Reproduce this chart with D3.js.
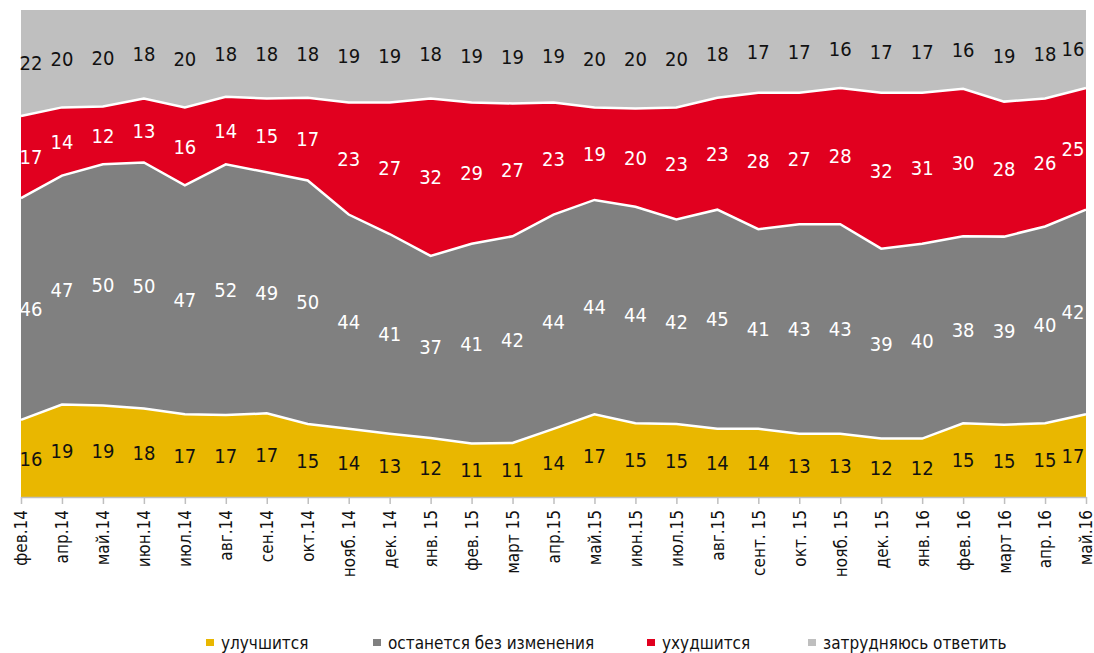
<!DOCTYPE html>
<html>
<head>
<meta charset="utf-8">
<script src="https://cdn.jsdelivr.net/npm/d3@7"></script>
<style>
  body { margin: 0; background: #fff; }
  svg { display: block; }
</style>
</head>
<body>
<div id="chart"></div>
<script>
// месяцы
const months = ["фев.14", "апр.14", "май.14", "июн.14", "июл.14", "авг.14", "сен.14", "окт.14",
  "нояб. 14", "дек. 14", "янв. 15", "фев. 15", "март 15", "апр.15", "май.15", "июн.15", "июл.15",
  "авг.15", "сент. 15", "окт. 15", "нояб. 15", "дек. 15", "янв. 16", "фев. 16", "март 16", "апр. 16", "май.16"];

const better = [16, 19, 19, 18, 17, 17, 17, 15, 14, 13, 12, 11, 11, 14, 17, 15, 15, 14, 14, 13, 13, 12, 12, 15, 15, 15, 17];
const same   = [46, 47, 50, 50, 47, 52, 49, 50, 44, 41, 37, 41, 42, 44, 44, 44, 42, 45, 41, 43, 43, 39, 40, 38, 39, 40, 42];
const worse  = [17, 14, 12, 13, 16, 14, 15, 17, 23, 27, 32, 29, 27, 23, 19, 20, 23, 23, 28, 27, 28, 32, 31, 30, 28, 26, 25];
const unsure = [22, 20, 20, 18, 20, 18, 18, 18, 19, 19, 18, 19, 19, 19, 20, 20, 20, 18, 17, 17, 16, 17, 17, 16, 19, 18, 16];

const seriesNames = ["улучшится", "останется без изменения", "ухудшится", "затрудняюсь ответить"];
const seriesKeys = ["better", "same", "worse", "unsure"];
const colors = ["#e9b700", "#808080", "#e1001f", "#bfbfbf"];
const labelColors = ["#111", "#fff", "#fff", "#111"];

const rows = months.map((m, i) => ({
  month: m, better: better[i], same: same[i], worse: worse[i], unsure: unsure[i]
}));

const width = 1094, height = 653;
const plotLeft = 21, plotRight = 1086, plotTop = 10, plotBottom = 497;
const font = "'Liberation Sans Narrow', 'DejaVu Sans Condensed', sans-serif";

const svg = d3.select("#chart").append("svg")
  .attr("width", width)
  .attr("height", height);

const x = d3.scalePoint().domain(months).range([plotLeft, plotRight]);
const y = d3.scaleLinear().domain([0, 1]).range([plotBottom, plotTop]);

const stack = d3.stack().keys(seriesKeys).offset(d3.stackOffsetExpand);
const layers = stack(rows);

const area = d3.area()
  .x(d => x(d.data.month))
  .y0(d => y(d[0]))
  .y1(d => y(d[1]));

svg.append("g").selectAll("path")
  .data(layers)
  .join("path")
  .attr("d", area)
  .attr("fill", (d, i) => colors[i]);

// белые линии между слоями
const topLine = d3.line()
  .x(d => x(d.data.month))
  .y(d => y(d[1]));

svg.append("g").selectAll("path")
  .data(layers.slice(0, 3))
  .join("path")
  .attr("d", topLine)
  .attr("fill", "none")
  .attr("stroke", "#fff")
  .attr("stroke-width", 2.5);

// подписи значений
layers.forEach((layer, li) => {
  svg.append("g").selectAll("text")
    .data(layer)
    .join("text")
    .attr("x", d => Math.max(31, Math.min(1073, x(d.data.month))))
    .attr("y", d => y((d[0] + d[1]) / 2))
    .attr("dy", "0.36em")
    .attr("text-anchor", "middle")
    .style("font-family", font)
    .style("font-size", "20px")
    .style("fill", labelColors[li])
    .text(d => d.data[seriesKeys[li]]);
});

// ось X
const xAxis = svg.append("g")
  .attr("transform", `translate(0,${plotBottom})`)
  .call(d3.axisBottom(x).tickSize(7).tickSizeOuter(0).tickPadding(6));

xAxis.select(".domain").attr("stroke", "#bfbfbf").attr("stroke-width", 1.5);
xAxis.selectAll(".tick line").attr("stroke", "#bfbfbf").attr("stroke-width", 1.5);
xAxis.selectAll(".tick text")
  .attr("transform", "rotate(-90)")
  .attr("x", -13)
  .attr("y", 0)
  .attr("dy", "0.35em")
  .attr("text-anchor", "end")
  .style("font-family", font)
  .style("font-size", "17px")
  .style("fill", "#111");

// легенда
const legendX = [206, 373, 647, 808];
const legend = svg.append("g").selectAll("g")
  .data(seriesNames)
  .join("g")
  .attr("transform", (d, i) => `translate(${legendX[i]}, 638)`);

legend.append("rect")
  .attr("y", 1)
  .attr("width", 8)
  .attr("height", 7)
  .attr("fill", (d, i) => colors[i]);

legend.append("text")
  .attr("x", 15)
  .attr("y", 11)
  .style("font-family", font)
  .style("font-size", "17px")
  .style("fill", "#111")
  .text(d => d);
</script>
</body>
</html>
